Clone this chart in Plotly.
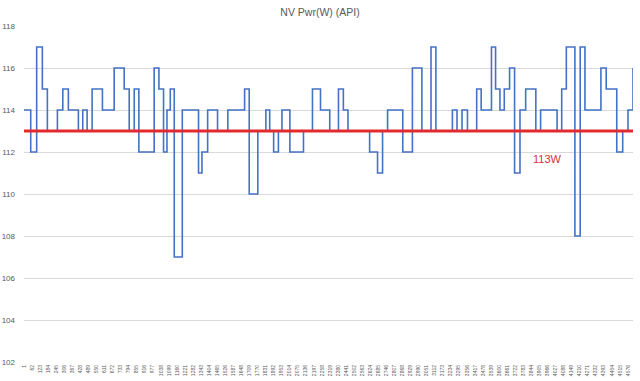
import plotly.graph_objects as go

# Step series: sample index where each level starts, and the power level (W)
change_idx = [1, 52, 97, 140, 178, 254, 295, 337, 413, 446, 479, 517, 595, 684, 760,
              798, 836, 871, 987, 1023, 1058, 1084, 1109, 1139, 1200, 1323, 1349, 1392,
              1467, 1545, 1672, 1707, 1772, 1833, 1862, 1892, 1928, 1955, 2015, 2118,
              2186, 2247, 2317, 2383, 2420, 2455, 2619, 2679, 2717, 2755, 2870, 2943,
              3015, 3084, 3121, 3246, 3281, 3319, 3360, 3430, 3464, 3542, 3573, 3606,
              3639, 3679, 3717, 3758, 3801, 3878, 3914, 4039, 4074, 4109, 4174, 4214,
              4250, 4371, 4411, 4491, 4536, 4576, 4614]
power_w = [114, 112, 117, 115, 113, 114, 115, 114, 113, 114, 113, 115, 114, 116, 115,
           113, 115, 112, 116, 115, 112, 114, 115, 107, 114, 111, 112, 114,
           113, 114, 115, 110, 113, 114, 113, 112, 113, 114, 112, 113,
           115, 114, 113, 115, 114, 113, 112, 111, 113, 114, 112, 116,
           113, 117, 113, 114, 113, 114, 113, 115, 114, 117, 115, 114,
           115, 116, 111, 114, 115, 113, 114, 113, 115, 117, 108, 117,
           114, 116, 115, 112, 113, 114, 116]

target_w = 113
target_label = "113W"
tick_vals = list(range(1, 4577, 61))
tick_text = [str(v) for v in tick_vals]
y_ticks = [102, 104, 106, 108, 110, 112, 114, 116, 118]

FONT = "Liberation Sans"
GRAY = "#595959"

W, H = 640, 381

fig = go.Figure()
fig.add_trace(go.Scatter(
    x=change_idx, y=power_w, mode="lines", line_shape="hv",
    line=dict(color="#4472C4", width=1.6), showlegend=False, hoverinfo="skip"))

fig.add_shape(type="line", xref="paper", yref="y", x0=0, x1=1,
              y0=target_w, y1=target_w, line=dict(color="#E32A2F", width=3.2), layer="above")

fig.add_annotation(x=3969, y=111.68, text=target_label, showarrow=False,
                   font=dict(family=FONT, size=11, color="#D8303A"))

fig.update_layout(
    width=W, height=H,
    margin=dict(l=24, r=7, t=26, b=19, autoexpand=False),
    paper_bgcolor="white", plot_bgcolor="white",
    title=dict(text="NV Pwr(W) (API)", x=0.5, xanchor="center", y=1 - 12 / H, yanchor="middle",
               font=dict(family=FONT, size=10.5, color=GRAY)),
    xaxis=dict(range=[1, 4614], tickmode="array", tickvals=tick_vals, ticktext=tick_text,
               tickangle=-90, tickfont=dict(family=FONT, size=5, color=GRAY),
               showgrid=False, zeroline=False, showline=False, ticks="",
               automargin=False, ticklabelstandoff=1),
    yaxis=dict(range=[102, 118], tickmode="array", tickvals=y_ticks,
               tickfont=dict(family=FONT, size=8, color=GRAY),
               showgrid=True, gridcolor="#D9D9D9", gridwidth=1, zeroline=False,
               showline=False, ticks="", automargin=False, ticklabelstandoff=8),
)

fig.write_html("out.html", config={"displayModeBar": False, "staticPlot": True},
               post_script="document.body.style.margin='0';document.body.style.overflow='hidden';")
